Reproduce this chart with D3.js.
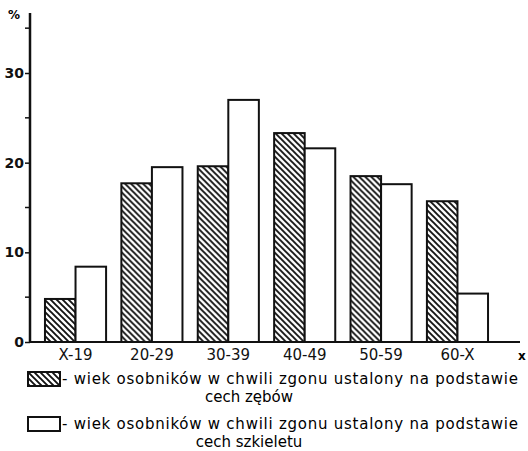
<!DOCTYPE html>
<html>
<head>
<meta charset="utf-8">
<script src="https://cdn.jsdelivr.net/npm/d3@7"></script>
<style>
  body { margin: 0; background: #fff; }
  svg { display: block; }
  .tick-label { font-family: "DejaVu Sans", sans-serif; font-weight: bold; font-size: 14px; }
  .cat-label { font-family: "DejaVu Sans", sans-serif; font-size: 15px; }
  .legend-text { font-family: "DejaVu Sans", sans-serif; font-size: 15px; }
</style>
</head>
<body>
<div id="chart"></div>
<script>
// data (percent)
var categories = ['X-19', '20-29', '30-39', '40-49', '50-59', '60-X'];
var teethValues = [4.8, 17.7, 19.6, 23.3, 18.5, 15.7];
var skeletonValues = [8.4, 19.5, 27.0, 21.6, 17.6, 5.4];
var seriesKeys = ['teeth', 'skeleton'];
var yMajorTicks = [0, 10, 20, 30];
var yMinorTicks = [5, 15, 25, 35];
var legendLines = [
    ['- wiek osobników w chwili zgonu  ustalony na podstawie', 'cech zębów'],
    ['- wiek osobników w chwili zgonu  ustalony na podstawie', 'cech szkieletu']
];

var width = 528,
    height = 451,
    axisX = 30,
    axisY = 342;

var rows = categories.map(function (c, i) {
    return { cat: c, teeth: teethValues[i], skeleton: skeletonValues[i] };
});

var svg = d3.select('#chart')
    .append('svg')
    .attr('width', width)
    .attr('height', height);

// hatch pattern  (\\\)
svg.append('defs')
    .append('pattern')
    .attr('id', 'hatch')
    .attr('patternUnits', 'userSpaceOnUse')
    .attr('width', 6)
    .attr('height', 6)
    .append('path')
    .attr('d', 'M0,0 L6,6 M-1,5 L1,7 M5,-1 L7,1')
    .attr('stroke', '#111')
    .attr('stroke-width', 1.9);

var x = d3.scaleBand()
    .domain(categories)
    .range([axisX, 503])
    .paddingInner(0.2)
    .paddingOuter(0.196);

var xSub = d3.scaleBand()
    .domain(seriesKeys)
    .range([0, x.bandwidth()]);

var y = d3.scaleLinear()
    .domain([0, 30])
    .range([axisY, 73]);

// bars
var groups = svg.selectAll('g.group')
    .data(rows)
    .enter()
    .append('g')
    .attr('class', 'group')
    .attr('transform', function (d) { return 'translate(' + x(d.cat) + ',0)'; });

groups.selectAll('rect')
    .data(function (d) {
        return seriesKeys.map(function (k) { return { key: k, value: d[k] }; });
    })
    .enter()
    .append('rect')
    .attr('x', function (d) { return xSub(d.key); })
    .attr('y', function (d) { return y(d.value); })
    .attr('width', xSub.bandwidth())
    .attr('height', function (d) { return y(0) - y(d.value); })
    .attr('fill', function (d) { return d.key === 'teeth' ? 'url(#hatch)' : '#fff'; })
    .attr('stroke', '#111')
    .attr('stroke-width', 2);

// y axis
var yAxis = d3.axisLeft(y)
    .tickValues(yMajorTicks)
    .tickSize(5)
    .tickPadding(1);

var gy = svg.append('g')
    .attr('transform', 'translate(' + axisX + ',0)')
    .call(yAxis);
gy.select('.domain').remove();
gy.selectAll('line').attr('stroke', '#111').attr('stroke-width', 1.5);
gy.selectAll('text').attr('class', 'tick-label').attr('fill', '#111');

svg.append('g')
    .selectAll('line')
    .data(yMinorTicks)
    .enter()
    .append('line')
    .attr('x1', axisX - 5)
    .attr('x2', axisX)
    .attr('y1', function (d) { return y(d); })
    .attr('y2', function (d) { return y(d); })
    .attr('stroke', '#111')
    .attr('stroke-width', 1.5);

svg.append('line')
    .attr('x1', axisX).attr('x2', axisX)
    .attr('y1', y(0) + 1).attr('y2', y(36.7))
    .attr('stroke', '#111').attr('stroke-width', 2.5);

svg.append('text')
    .attr('class', 'tick-label')
    .attr('x', 8).attr('y', 19)
    .style('font-size', '12px')
    .text('%');

// x axis
var xAxis = d3.axisBottom(x).tickSize(0).tickPadding(7);
var gx = svg.append('g')
    .attr('transform', 'translate(0,' + axisY + ')')
    .call(xAxis);
gx.select('.domain').remove();
gx.selectAll('text').attr('class', 'cat-label').attr('fill', '#111');

svg.append('line')
    .attr('x1', axisX - 1).attr('x2', 520)
    .attr('y1', axisY).attr('y2', axisY)
    .attr('stroke', '#111').attr('stroke-width', 2.2);

svg.append('text')
    .attr('class', 'tick-label')
    .attr('x', 518).attr('y', 360)
    .style('font-size', '12px')
    .text('x');

// legend
var legend = svg.append('g')
    .selectAll('g')
    .data(seriesKeys)
    .enter()
    .append('g')
    .attr('transform', function (d, i) { return 'translate(28,' + (372 + i * 45) + ')'; });

legend.append('rect')
    .attr('width', 32)
    .attr('height', 14)
    .attr('fill', function (d) { return d === 'teeth' ? 'url(#hatch)' : '#fff'; })
    .attr('stroke', '#111')
    .attr('stroke-width', 2);

legend.append('text')
    .attr('class', 'legend-text')
    .attr('x', 34)
    .attr('y', 12)
    .attr('textLength', 456)
    .attr('lengthAdjust', 'spacing')
    .text(function (d, i) { return legendLines[i][0]; });

legend.append('text')
    .attr('class', 'legend-text')
    .attr('x', 221)
    .attr('y', 30)
    .attr('text-anchor', 'middle')
    .text(function (d, i) { return legendLines[i][1]; });
</script>
</body>
</html>
